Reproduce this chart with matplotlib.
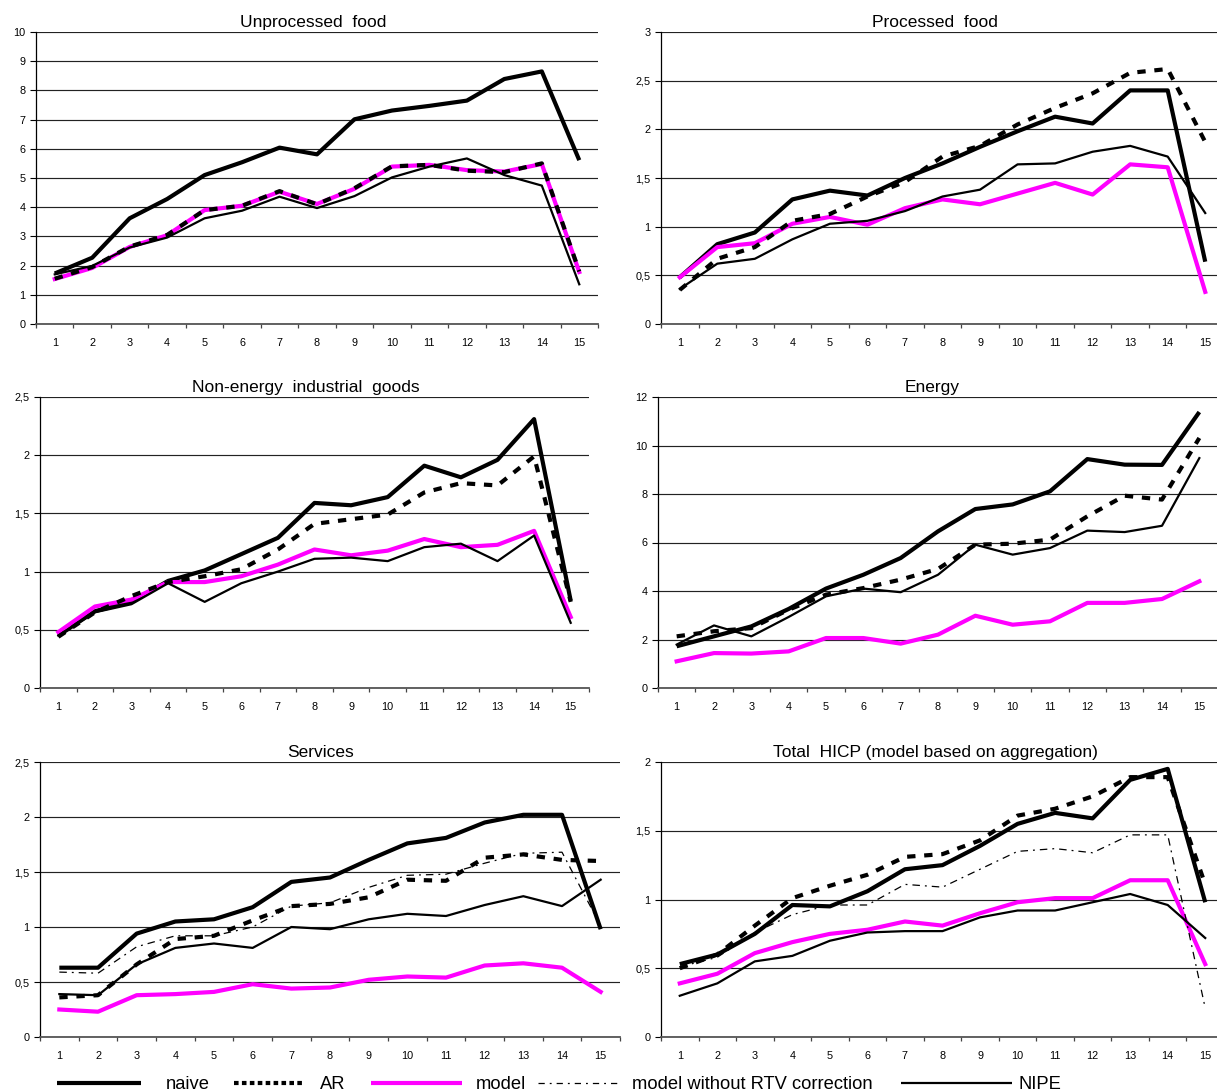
import matplotlib
matplotlib.use("Agg")
import matplotlib.pyplot as plt
from matplotlib.ticker import MultipleLocator, FuncFormatter, FixedLocator
from matplotlib.lines import Line2D

plt.rcParams["font.family"] = ["Liberation Sans", "DejaVu Sans"]

horizons = list(range(1, 16))

# ---- Unprocessed food ----
unproc_naive = [1.73, 2.27, 3.62, 4.28, 5.10, 5.54, 6.04, 5.81, 7.01, 7.31, 7.47, 7.65, 8.39, 8.65, 5.61]
unproc_ar = [1.55, 1.95, 2.65, 3.05, 3.90, 4.05, 4.55, 4.10, 4.65, 5.40, 5.45, 5.25, 5.20, 5.50, 1.80]
unproc_model = [1.54, 1.92, 2.64, 3.04, 3.90, 4.05, 4.53, 4.11, 4.63, 5.39, 5.45, 5.27, 5.22, 5.48, 1.78]
unproc_nipe = [1.70, 1.99, 2.62, 2.96, 3.62, 3.88, 4.36, 3.97, 4.38, 5.02, 5.39, 5.67, 5.10, 4.74, 1.36]

# ---- Processed food ----
proc_naive = [0.48, 0.82, 0.94, 1.28, 1.37, 1.32, 1.50, 1.65, 1.82, 1.98, 2.13, 2.06, 2.40, 2.40, 0.64]
proc_ar = [0.35, 0.67, 0.79, 1.06, 1.13, 1.31, 1.46, 1.72, 1.83, 2.05, 2.22, 2.37, 2.58, 2.62, 1.87]
proc_model = [0.48, 0.79, 0.83, 1.03, 1.10, 1.02, 1.19, 1.28, 1.23, 1.34, 1.45, 1.33, 1.64, 1.61, 0.33]
proc_nipe = [0.36, 0.62, 0.67, 0.87, 1.03, 1.06, 1.16, 1.31, 1.38, 1.64, 1.65, 1.77, 1.83, 1.72, 1.14]

# ---- Non-energy industrial goods ----
neig_naive = [0.45, 0.66, 0.74, 0.92, 1.01, 1.15, 1.29, 1.59, 1.57, 1.64, 1.91, 1.81, 1.96, 2.31, 0.75]
neig_ar = [0.44, 0.65, 0.79, 0.91, 0.96, 1.02, 1.19, 1.41, 1.45, 1.49, 1.68, 1.76, 1.74, 1.99, 0.74]
neig_model = [0.48, 0.70, 0.76, 0.91, 0.91, 0.96, 1.06, 1.19, 1.14, 1.18, 1.28, 1.21, 1.23, 1.35, 0.61]
neig_nipe = [0.45, 0.65, 0.72, 0.90, 0.74, 0.90, 1.00, 1.11, 1.12, 1.09, 1.21, 1.24, 1.09, 1.31, 0.56]

# ---- Energy ----
energy_naive = [1.72, 2.13, 2.54, 3.26, 4.10, 4.67, 5.36, 6.46, 7.38, 7.57, 8.11, 9.44, 9.21, 9.20, 11.38]
energy_ar = [2.13, 2.34, 2.47, 3.23, 3.85, 4.12, 4.47, 4.91, 5.91, 5.95, 6.12, 7.08, 7.93, 7.77, 10.31]
energy_model = [1.10, 1.44, 1.42, 1.51, 2.06, 2.06, 1.83, 2.20, 2.98, 2.61, 2.75, 3.51, 3.51, 3.67, 4.40]
energy_nipe = [1.79, 2.58, 2.13, 2.93, 3.78, 4.10, 3.95, 4.67, 5.91, 5.50, 5.77, 6.49, 6.43, 6.69, 9.48]

# ---- Services ----
serv_naive = [0.63, 0.63, 0.94, 1.05, 1.07, 1.18, 1.41, 1.45, 1.61, 1.76, 1.81, 1.95, 2.02, 2.02, 0.98]
serv_ar = [0.36, 0.38, 0.66, 0.89, 0.92, 1.06, 1.19, 1.21, 1.27, 1.43, 1.42, 1.63, 1.66, 1.61, 1.60]
serv_model = [0.25, 0.23, 0.38, 0.39, 0.41, 0.48, 0.44, 0.45, 0.52, 0.55, 0.54, 0.65, 0.67, 0.63, 0.41]
serv_no_rtv = [0.59, 0.58, 0.82, 0.92, 0.92, 1.00, 1.19, 1.22, 1.36, 1.47, 1.48, 1.58, 1.67, 1.68, 1.01]
serv_nipe = [0.39, 0.38, 0.66, 0.81, 0.85, 0.81, 1.00, 0.98, 1.07, 1.12, 1.10, 1.20, 1.28, 1.19, 1.43]

# ---- Total HICP ----
hicp_naive = [0.53, 0.60, 0.75, 0.96, 0.95, 1.06, 1.22, 1.25, 1.39, 1.55, 1.63, 1.59, 1.87, 1.95, 0.98]
hicp_ar = [0.50, 0.60, 0.81, 1.01, 1.10, 1.18, 1.31, 1.33, 1.43, 1.61, 1.66, 1.75, 1.89, 1.89, 1.11]
hicp_model = [0.39, 0.46, 0.61, 0.69, 0.75, 0.78, 0.84, 0.81, 0.90, 0.98, 1.01, 1.01, 1.14, 1.14, 0.53]
hicp_no_rtv = [0.51, 0.58, 0.76, 0.89, 0.96, 0.96, 1.11, 1.09, 1.22, 1.35, 1.37, 1.34, 1.47, 1.47, 0.21]
hicp_nipe = [0.30, 0.39, 0.55, 0.59, 0.70, 0.76, 0.77, 0.77, 0.87, 0.92, 0.92, 0.98, 1.04, 0.96, 0.72]

titles = [
    "Unprocessed  food",
    "Processed  food",
    "Non-energy  industrial  goods",
    "Energy",
    "Services",
    "Total  HICP (model based on aggregation)",
]
y_max = [10, 3, 2.5, 12, 2.5, 2]
y_step = [1, 0.5, 0.5, 2, 0.5, 0.5]

legend_labels = ["naive", "AR", "model", "model without RTV correction", "NIPE"]

series = [
    (unproc_naive, unproc_ar, unproc_model, None, unproc_nipe),
    (proc_naive, proc_ar, proc_model, None, proc_nipe),
    (neig_naive, neig_ar, neig_model, None, neig_nipe),
    (energy_naive, energy_ar, energy_model, None, energy_nipe),
    (serv_naive, serv_ar, serv_model, serv_no_rtv, serv_nipe),
    (hicp_naive, hicp_ar, hicp_model, hicp_no_rtv, hicp_nipe),
]

MAGENTA = "#FF00FF"
styles = [
    dict(color="black", lw=3.0, ls="-", solid_capstyle="butt", zorder=3),
    dict(color="black", lw=3.0, ls=(0, (2.0, 2.1)), dash_capstyle="butt", zorder=6),
    dict(color=MAGENTA, lw=3.0, ls="-", zorder=4),
    dict(color="black", lw=0.9, ls=(0, (6, 4, 1.5, 4)), zorder=5),
    dict(color="black", lw=1.6, ls="-", zorder=5),
]

W, H = 1217, 1091
fig = plt.figure(figsize=(W / 100, H / 100), dpi=100)

# panel boxes in pixels: left, right, top, bottom, title shift
boxes = [
    (36, 598, 32, 324, -4),
    (661, 1224, 32, 324, -8),
    (40, 589, 397, 688, -9),
    (658, 1218, 397, 688, -6),
    (40, 620, 762, 1037, -9),
    (661, 1224, 762, 1037, -7),
]


def comma_fmt(v, pos):
    return ("%g" % v).replace(".", ",")


for i, (l, r, t, b, dx) in enumerate(boxes):
    ax = fig.add_axes([l / W, 1 - b / H, (r - l) / W, (b - t) / H])
    for data, st in zip(series[i], styles):
        if data is None:
            continue
        ax.plot(horizons, data, **st)
    ax.set_xlim(0.5, 15.5)
    ax.set_ylim(0, y_max[i])
    ax.yaxis.set_major_locator(MultipleLocator(y_step[i]))
    ax.yaxis.set_major_formatter(FuncFormatter(comma_fmt))
    ax.xaxis.set_major_locator(FixedLocator(horizons))
    ax.xaxis.set_minor_locator(FixedLocator([h + 0.5 for h in [0] + horizons]))
    ax.tick_params(axis="x", which="major", length=0, pad=10, labelsize=7.8)
    ax.tick_params(axis="x", which="minor", length=3, width=0.9, direction="out",
                   color="#444444")
    ax.tick_params(axis="y", which="major", length=4, width=0.8, pad=3.5, labelsize=7.8)
    ax.grid(axis="y", color="#222222", lw=0.85)
    ax.set_axisbelow(True)
    for side in ("top", "right"):
        ax.spines[side].set_visible(False)
    ax.spines["left"].set_linewidth(0.9)
    ax.spines["bottom"].set_linewidth(1.3)
    ax.spines["bottom"].set_color("#555555")
    ax.set_title(titles[i], fontsize=12.5, pad=3.5, x=0.5 + dx / (r - l))
    ax.patch.set_alpha(0)

# legend row along the bottom of the figure
legend_keys = [
    (57, 141, 166, dict(color="black", lw=3.0, solid_capstyle="butt")),
    (234, 304, 320, dict(color="black", lw=3.0, ls=(0, (1.1, 0.8)), dash_capstyle="butt")),
    (371, 462, 476, dict(color=MAGENTA, lw=3.0, solid_capstyle="butt")),
    (538, 620, 632, dict(color="black", lw=0.9, ls=(0, (5, 4, 1.5, 4)))),
    (901, 1012, 1019, dict(color="black", lw=1.6, solid_capstyle="butt")),
]
y_line = 1 - 1083 / H
y_text = 1 - 1089 / H
for (x0, x1, xt, st), label in zip(legend_keys, legend_labels):
    fig.add_artist(Line2D([x0 / W, x1 / W], [y_line, y_line], transform=fig.transFigure, **st))
    fig.text(xt / W, y_text, label, fontsize=13.2, ha="left", va="baseline")

fig.savefig("out.png", dpi=100)
